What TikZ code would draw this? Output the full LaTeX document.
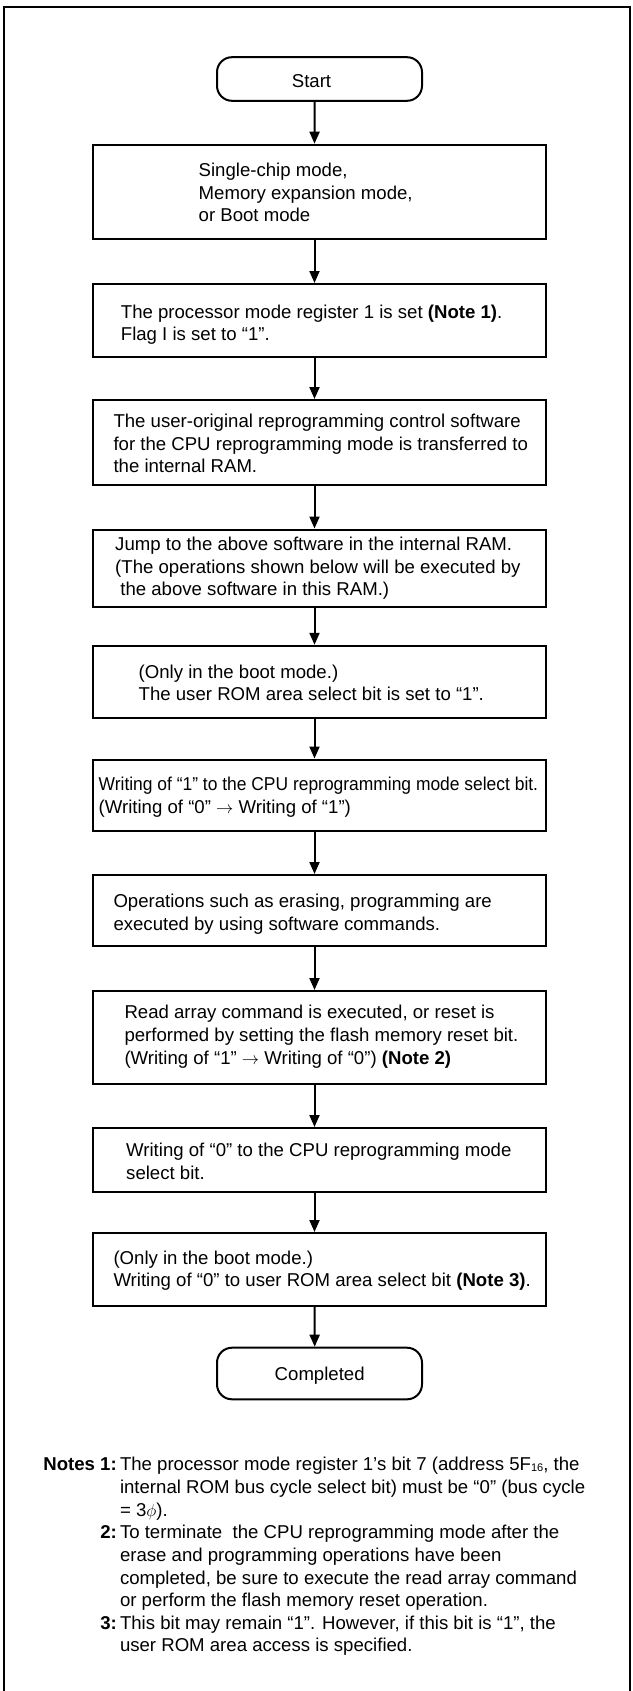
\documentclass[tikz,border=0pt]{standalone}
\usepackage{fontspec}
\setmainfont{Liberation Sans}
\usepackage{graphicx}
\usetikzlibrary{arrows.meta}
\newcommand{\tlines}[1]{\begin{tabular}[t]{@{}l@{}}#1\end{tabular}}
\begin{document}
\begin{tikzpicture}[x=1pt,y=-1pt,
  box/.style={draw, line width=2pt, minimum width=453.5pt, inner sep=0pt},
  term/.style={draw, line width=2pt, rounded corners=15pt, inner sep=0pt, minimum width=205pt},
  txt/.style={inner sep=0pt, anchor=base west, font=\fontsize{18.6}{22.4}\selectfont},
  ctxt/.style={inner sep=0pt, anchor=base, font=\fontsize{18.6}{22.4}\selectfont},
  ntxt/.style={inner sep=0pt, anchor=base west, font=\fontsize{18.6}{22.67}\selectfont},
  nlab/.style={inner sep=0pt, anchor=base east, font=\fontsize{18.6}{22.67}\selectfont\bfseries},
  arr/.style={line width=2pt, -{Triangle[length=12pt,width=10pt]}},
  frame/.style={line width=2pt}]
\useasboundingbox (0,0) rectangle (632,1691);
% outer frame
\draw[frame] (4.3,1692) -- (4.3,7) -- (629.5,7) -- (629.5,1692);

% terminals
\node[term, minimum height=43.6pt] (start) at (319.5,79) {};
\node[ctxt] (tstart) at (311.5,87.3) {Start};
\node[term, minimum height=51.6pt] (end) at (319.5,1373.5) {};
\node[ctxt] (tend) at (319.7,1380.7) {Completed};

% process boxes
\node[box, minimum height=94pt]   (b1)  at (319.3,191.7) {};
\node[box, minimum height=72.7pt] (b2)  at (319.3,320.35) {};
\node[box, minimum height=85.3pt] (b3)  at (319.3,442.65) {};
\node[box, minimum height=77.3pt] (b4)  at (319.3,568.15) {};
\node[box, minimum height=71.7pt] (b5)  at (319.3,681.65) {};
\node[box, minimum height=71.5pt] (b6)  at (319.3,795.25) {};
\node[box, minimum height=71pt]   (b7)  at (319.3,910.5) {};
\node[box, minimum height=93pt]   (b8)  at (319.3,1037.5) {};
\node[box, minimum height=64pt]   (b9)  at (319.3,1160) {};
\node[box, minimum height=72.5pt] (b10) at (319.3,1269.25) {};

% box texts
\node[txt] (t1) at (198.5,176.7) {\tlines{Single-chip mode,\\Memory expansion mode,\\or Boot mode}};
\node[txt] (t2) at (120.7,318.3) {\tlines{The processor mode register 1 is set \textbf{(Note 1)}.\\Flag I is set to “1”.}};
\node[txt] (t3) at (113.3,427.7) {\tlines{The user-original reprogramming control software\\for the CPU reprogramming mode is transferred to\\the internal RAM.}};
\node[txt] (t4) at (115,550.7) {\tlines{Jump to the above software in the internal RAM.\\(The operations shown below will be executed by\\\ the above software in this RAM.)}};
\node[txt] (t5) at (138.5,678.3) {\tlines{(Only in the boot mode.)\\The user ROM area select bit is set to “1”.}};
\node[txt] (t6) at (98.5,790.7) {\tlines{\scalebox{0.937}[1]{Writing of “1” to the CPU reprogramming mode select bit.}\\(Writing of “0” $\rightarrow$ Writing of “1”)}};
\node[txt] (t7) at (113.3,907.7) {\tlines{Operations such as erasing, programming are\\executed by using software commands.}};
\node[txt, font=\fontsize{18.6}{23.3}\selectfont] (t8) at (124.3,1018.3) {\tlines{Read array command is executed, or reset is\\performed by setting the flash memory reset bit.\\(Writing of “1” $\rightarrow$ Writing of “0”) \textbf{(Note 2)}}};
\node[txt] (t9) at (126,1156.7) {\tlines{Writing of “0” to the CPU reprogramming mode\\select bit.}};
\node[txt] (t10) at (113.3,1264) {\tlines{(Only in the boot mode.)\\Writing of “0” to user ROM area select bit \textbf{(Note 3)}.}};

% connectors
\draw[arr] ([xshift=-4.8pt]start.south) -- ([xshift=-4.8pt]b1.north);
\draw[arr] ([xshift=-4.8pt]b1.south) -- ([xshift=-4.8pt]b2.north);
\draw[arr] ([xshift=-4.8pt]b2.south) -- ([xshift=-4.8pt]b3.north);
\draw[arr] ([xshift=-4.8pt]b3.south) -- ([xshift=-4.8pt]b4.north);
\draw[arr] ([xshift=-4.8pt]b4.south) -- ([xshift=-4.8pt]b5.north);
\draw[arr] ([xshift=-4.8pt]b5.south) -- ([xshift=-4.8pt]b6.north);
\draw[arr] ([xshift=-4.8pt]b6.south) -- ([xshift=-4.8pt]b7.north);
\draw[arr] ([xshift=-4.8pt]b7.south) -- ([xshift=-4.8pt]b8.north);
\draw[arr] ([xshift=-4.8pt]b8.south) -- ([xshift=-4.8pt]b9.north);
\draw[arr] ([xshift=-4.8pt]b9.south) -- ([xshift=-4.8pt]b10.north);
\draw[arr] ([xshift=-4.8pt]b10.south) -- ([xshift=-4.8pt]end.north);

% notes
\node[nlab] (n1l) at (117,1470.7) {Notes 1:};
\node[ntxt] (n1) at (119.8,1470.7) {\tlines{The processor mode register 1’s bit 7 (address 5F{\fontsize{11}{11}\selectfont\raisebox{-1pt}{16}}, the\\internal ROM bus cycle select bit) must be “0” (bus cycle\\= 3$\phi$).}};
\node[nlab] (n2l) at (117,1538.7) {2:};
\node[ntxt] (n2) at (119.8,1538.7) {\tlines{To terminate\ \ the CPU reprogramming mode after the\\erase and programming operations have been\\completed, be sure to execute the read array command\\or perform the flash memory reset operation.}};
\node[nlab] (n3l) at (117,1629.3) {3:};
\node[ntxt] (n3) at (119.8,1629.3) {\tlines{This bit may remain “1”. However, if this bit is “1”, the\\user ROM area access is specified.}};
\end{tikzpicture}
\end{document}
